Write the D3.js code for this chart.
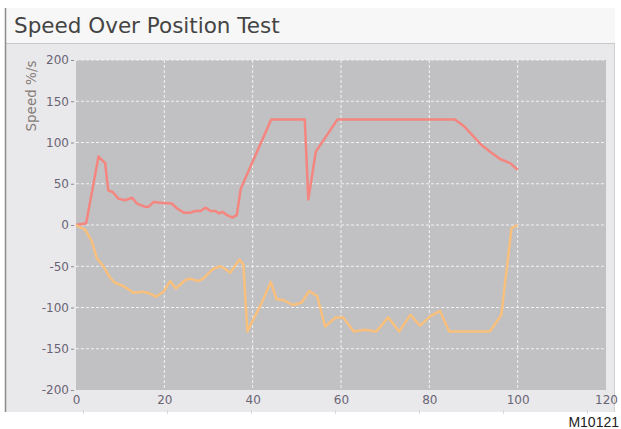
<!DOCTYPE html>
<html>
<head>
<meta charset="utf-8">
<style>
  body { margin: 0; background: #fff; }
  svg { display: block; }
</style>
</head>
<body>
<svg width="621" height="429"></svg>
<script src="https://cdn.jsdelivr.net/npm/d3@7"></script>
<script>

// position (%) vs speed (%/s)
var forwardPos   = [0, 2.3, 5.1, 6.6, 7.3, 8.3, 9.6, 11.1, 12.7, 13.8, 15.7, 16.4, 17.6, 19.1, 21.7, 22.9, 24.4, 25.9, 27, 28.2, 29.3, 30.5, 31.6, 32.4, 33.1, 34.2, 35.4, 36.4, 37.3, 44.2, 51.8, 52.6, 54.3, 59.2, 85.8, 88, 91.8, 93.7, 96, 98.3, 100];
var forwardSpeed = [0, 2, 83, 75, 42, 40, 32, 30, 33, 26, 22, 22, 28, 27, 26, 20, 15, 15, 17, 17, 21, 17, 17, 14, 16, 12, 9, 12, 44, 128, 128, 31, 89, 128, 128, 119, 97, 89, 80, 75, 67];

var reversePos   = [0, 2.1, 3.6, 4.7, 6.2, 7.6, 8.8, 10.7, 13, 15.2, 16.7, 18.1, 19.8, 21.3, 22.6, 24.7, 25.8, 27.7, 28.8, 31.1, 32.6, 33.7, 34.9, 37, 37.9, 38.8, 42, 44.1, 45.4, 46.9, 49.2, 51.1, 52.8, 54.6, 56.4, 58.8, 60.5, 62.9, 65.4, 68, 70.7, 73.2, 75.7, 77.9, 80.1, 82.4, 84.5, 93.7, 96.3, 98.6, 100];
var reverseSpeed = [0, -6, -20, -40, -50, -63, -70, -74, -82, -81, -83, -87, -81, -68, -77, -67, -65, -68, -65, -53, -50, -53, -58, -42, -48, -129, -95, -69, -90, -91, -97, -94, -80, -86, -123, -112, -112, -129, -127, -129, -112, -129, -109, -122, -111, -104, -129, -129, -109, -4, 0];

var xTicks = [0, 20, 40, 60, 80, 100, 120];
var yTicks = [-200, -150, -100, -50, 0, 50, 100, 150, 200];

var svg = d3.select("svg");

// frame
svg.append("rect").attr("x", 6).attr("y", 8).attr("width", 609).attr("height", 35).attr("fill", "#f7f7f7");
svg.append("rect").attr("x", 6).attr("y", 44).attr("width", 609).attr("height", 368).attr("fill", "#e9e8eb");
svg.append("line").attr("x1", 6).attr("x2", 615).attr("y1", 43.5).attr("y2", 43.5).attr("stroke", "#c8c8c8");
svg.append("line").attr("x1", 5.5).attr("x2", 5.5).attr("y1", 8).attr("y2", 412).attr("stroke", "#8c8c8c").attr("stroke-width", 1.5);
svg.append("line").attr("x1", 614.5).attr("x2", 614.5).attr("y1", 44).attr("y2", 412).attr("stroke", "#d0d0d0");

svg.append("text")
    .attr("x", 14).attr("y", 33)
    .attr("font-family", "DejaVu Sans, Verdana, sans-serif")
    .attr("font-size", 21.5)
    .attr("fill", "#444")
    .text("Speed Over Position Test");

var margin = {top: 60, left: 76},
    width = 530,
    height = 330;

var x = d3.scaleLinear().domain([0, 120]).range([0, width]);
var y = d3.scaleLinear().domain([-200, 200]).range([height, 0]);

var g = svg.append("g")
    .attr("transform", "translate(" + margin.left + "," + margin.top + ")");

g.append("rect")
    .attr("width", width).attr("height", height)
    .attr("fill", "#c1c0c2");

// grid
g.selectAll(".vgrid")
    .data(xTicks.slice(1, -1))
  .enter().append("line")
    .attr("x1", function(d) { return x(d); })
    .attr("x2", function(d) { return x(d); })
    .attr("y1", 0).attr("y2", height)
    .attr("stroke", "#f2f2f2").attr("stroke-dasharray", "3,2");

g.selectAll(".hgrid")
    .data(yTicks.slice(1))
  .enter().append("line")
    .attr("x1", 0).attr("x2", width)
    .attr("y1", function(d) { return y(d); })
    .attr("y2", function(d) { return y(d); })
    .attr("stroke", "#f2f2f2").attr("stroke-dasharray", "3,2");

// axes
var plain = function(d) { return String(d); };
var yAxis = g.append("g")
    .attr("transform", "translate(-2,0)")
    .call(d3.axisLeft(y).tickValues(yTicks).tickFormat(plain).tickSize(3).tickPadding(2));
var xAxis = g.append("g")
    .attr("transform", "translate(0," + height + ")")
    .call(d3.axisBottom(x).tickValues(xTicks).tickFormat(plain).tickSize(0).tickPadding(5));

[yAxis, xAxis].forEach(function(a) {
  a.select(".domain").remove();
  a.selectAll("line").attr("stroke", "#8a8a9a");
  a.selectAll("text")
      .attr("font-family", "DejaVu Sans, Verdana, sans-serif")
      .attr("font-size", 12)
      .attr("fill", "#6a6575");
});

svg.append("text")
    .attr("transform", "translate(36,96) rotate(-90)")
    .attr("text-anchor", "middle")
    .attr("font-family", "DejaVu Sans, Verdana, sans-serif")
    .attr("font-size", 13.5)
    .attr("fill", "#877c78")
    .text("Speed %/s");

// lines
var line = d3.line()
    .x(function(d) { return x(d[0]); })
    .y(function(d) { return y(d[1]); });

g.append("path")
    .datum(d3.zip(forwardPos, forwardSpeed))
    .attr("fill", "none")
    .attr("stroke", "#f4857f")
    .attr("stroke-width", 2.5)
    .attr("stroke-linejoin", "round")
    .attr("d", line);

g.append("path")
    .datum(d3.zip(reversePos, reverseSpeed))
    .attr("fill", "none")
    .attr("stroke", "#f8c07c")
    .attr("stroke-width", 2.5)
    .attr("stroke-linejoin", "round")
    .attr("d", line);

// little marks along the bottom edge of the panel
svg.selectAll(".edge")
    .data(d3.range(0, 7))
  .enter().append("line")
    .attr("x1", function(d) { return 83.5 + d * 84; })
    .attr("x2", function(d) { return 83.5 + d * 84; })
    .attr("y1", 410).attr("y2", 414)
    .attr("stroke", "#d8d8d8");

svg.append("text")
    .attr("x", 619).attr("y", 427)
    .attr("text-anchor", "end")
    .attr("font-family", "Liberation Sans, Arial, sans-serif")
    .attr("font-size", 14)
    .attr("fill", "#222")
    .text("M10121");

</script>
</body>
</html>
